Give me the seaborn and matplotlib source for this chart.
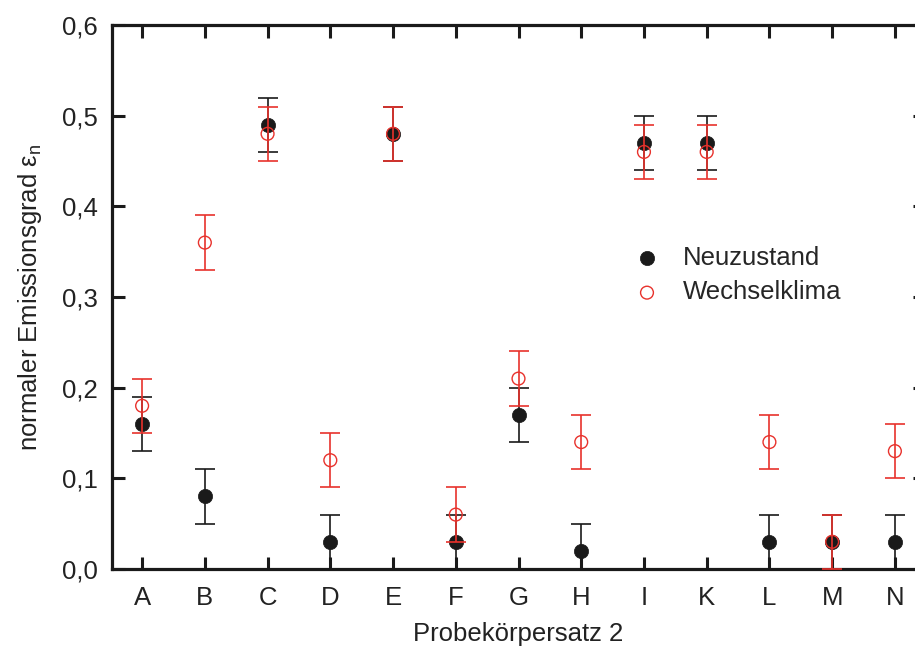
import numpy as np
import pandas as pd
import matplotlib
matplotlib.use("Agg")
import matplotlib.pyplot as plt
import seaborn as sns
from matplotlib.ticker import FuncFormatter, MultipleLocator

categories = ["A", "B", "C", "D", "E", "F", "G", "H", "I", "K", "L", "M", "N"]
neu_values = [0.16, 0.08, 0.49, 0.03, 0.48, 0.03, 0.17, 0.02, 0.47, 0.47, 0.03, 0.03, 0.03]
neu_err = [0.03] * 13
wech_values = [0.18, 0.36, 0.48, 0.12, 0.48, 0.06, 0.21, 0.14, 0.46, 0.46, 0.14, 0.03, 0.13]
wech_err = [0.03] * 13

sns.set_theme(style="white")
plt.rcParams["font.family"] = ["Liberation Sans", "DejaVu Sans"]
plt.rcParams["mathtext.fontset"] = "custom"
plt.rcParams["mathtext.rm"] = "Liberation Sans"
plt.rcParams["mathtext.it"] = "Liberation Sans"

black = "#1a1a1a"
red = "#e8322c"
txt = "#222222"
fs = 18.5

pos = np.arange(len(categories))
df = pd.DataFrame({
    "pos": np.concatenate([pos, pos]),
    "value": neu_values + wech_values,
    "err": neu_err + wech_err,
    "Serie": ["Neuzustand"] * len(pos) + ["Wechselklima"] * len(pos),
})

fig = plt.figure(figsize=(9.15, 6.46), dpi=100)
ax = fig.add_axes([112 / 915, 77 / 646, 813 / 915, 544 / 646])

d1 = df[df["Serie"] == "Neuzustand"]
d2 = df[df["Serie"] == "Wechselklima"]

ax.errorbar(d1["pos"], d1["value"], yerr=d1["err"], fmt="none", ecolor=black,
            elinewidth=1.2, capsize=7.5, capthick=1.2, zorder=2)
sns.scatterplot(data=d1, x="pos", y="value", ax=ax, color=black, s=105,
                edgecolor=black, linewidth=0.5, label="Neuzustand", zorder=3)
ax.errorbar(d2["pos"], d2["value"], yerr=d2["err"], fmt="none", ecolor=red,
            elinewidth=1.2, capsize=7.5, capthick=1.2, zorder=4)
sns.scatterplot(data=d2, x="pos", y="value", ax=ax, facecolor="none", s=85,
                edgecolor=red, linewidth=1.0, label="Wechselklima", zorder=5)

ax.set_xlim(-0.48, len(categories) - 1 + 0.48)
ax.set_ylim(0, 0.6)
ax.set_xticks(pos)
ax.set_xticklabels(categories)
ax.yaxis.set_major_locator(MultipleLocator(0.1))
ax.yaxis.set_major_formatter(FuncFormatter(lambda v, p: f"{v:.1f}".replace(".", ",")))

for s in ax.spines.values():
    s.set_visible(True)
    s.set_color(black)
    s.set_linewidth(2.3)

ax.tick_params(axis="both", which="major", direction="in", length=9, width=2.2,
               color=black, labelsize=fs, labelcolor=txt,
               top=True, right=True, bottom=True, left=True)
ax.tick_params(axis="x", pad=12)
ax.tick_params(axis="y", pad=10)

ax.set_xlabel("Probekörpersatz 2", fontsize=fs, color=txt, labelpad=9)
ax.set_ylabel("normaler Emissionsgrad ε$_\\mathregular{n}$", fontsize=fs,
              color=txt, labelpad=13)

leg = ax.legend(loc="upper left", bbox_to_anchor=(0.598, 0.637), frameon=False,
                fontsize=fs, handlelength=2.0, handletextpad=0.4,
                labelspacing=0.42, markerscale=1.0)

fig.savefig("out.png", dpi=100)
